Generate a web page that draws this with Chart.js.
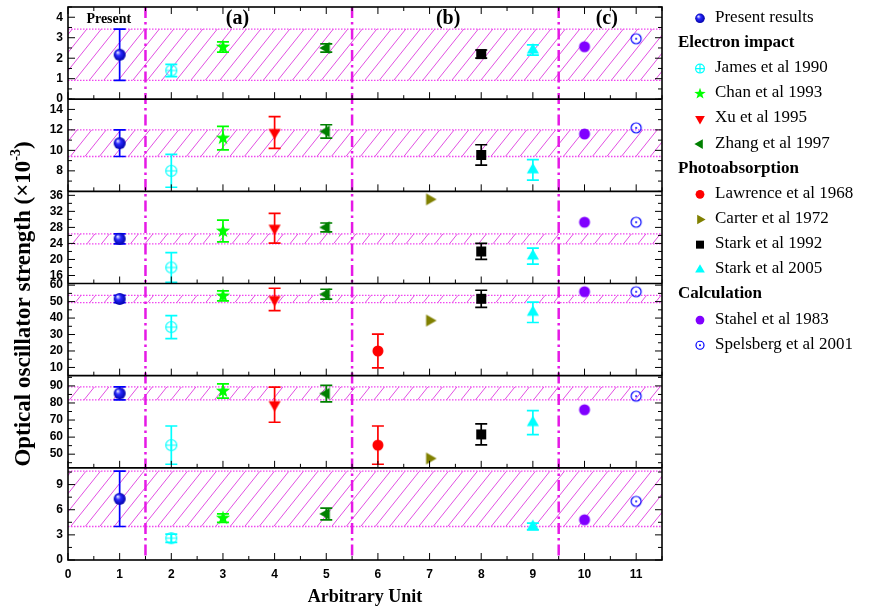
<!DOCTYPE html>
<html>
<head>
<meta charset="utf-8">
<script src="https://cdn.jsdelivr.net/npm/chart.js@4.4.0/dist/chart.umd.min.js"></script>
<style>
  html, body { margin: 0; padding: 0; background: #fff; }
  #wrap { width: 880px; height: 612px; }
</style>
</head>
<body>
<div id="wrap"><canvas id="chart" width="880" height="612"></canvas></div>
<script>
// one value per panel, top panel first (null = not measured)
const presentVal   = [2.17, 10.7, 25.15, 51.6, 85.6, 7.3];
const presentErr   = [1.25, 1.3, 1.25, 2.2, 3.8, 3.3];
const jamesVal     = [1.4, 8.0, 18.0, 34.5, 55.3, 2.6];
const jamesErr     = [0.3, 1.6, 3.7, 7.0, 11.2, 0.5];
const chanVal      = [2.55, 11.2, 27.1, 53.5, 87.0, 5.0];
const chanErr      = [0.25, 1.15, 2.7, 3.0, 4.2, 0.5];
const xuVal        = [null, 11.75, 27.8, 51.3, 79.0, null];
const xuErr        = [null, 1.55, 3.7, 6.8, 10.3, null];
const zhangVal     = [2.5, 11.85, 28.0, 54.5, 85.5, 5.5];
const zhangErr     = [0.2, 0.65, 1.1, 3.0, 4.8, 0.7];
const lawrenceVal  = [null, null, null, 20.0, 55.3, null];
const lawrenceErr  = [null, null, null, 10.3, 11.2, null];
const carterVal    = [null, null, 35.0, 38.5, 47.5, null];
const stark92Val   = [2.2, 9.55, 22.0, 51.7, 61.6, null];
const stark92Err   = [0.2, 1.0, 2.0, 5.2, 6.1, null];
const stark05Val   = [2.4, 8.1, 20.85, 43.5, 68.5, 4.0];
const stark05Err   = [0.25, 1.0, 2.0, 6.2, 7.0, 0.4];
const stahelVal    = [2.56, 11.6, 29.3, 56.0, 76.0, 4.8];
const spelsbergVal = [2.95, 12.2, 29.3, 56.0, 84.0, 7.0];

// axes
const panelMin   = [0, 6, 14, 5, 42, 0];
const panelMax   = [4.5, 15, 37, 61, 96, 11];
const panelTicks = [[0, 1, 2, 3, 4], [8, 10, 12, 14], [16, 20, 24, 28, 32, 36],
                    [10, 20, 30, 40, 50, 60], [50, 60, 70, 80, 90], [0, 3, 6, 9]];
const panelMinor = [0.5, 1, 2, 5, 5, 1.5];
const xTicks = [0, 1, 2, 3, 4, 5, 6, 7, 8, 9, 10, 11];
const dividers = [1.5, 5.5, 9.5];
const regionLabels = ['Present', '(a)', '(b)', '(c)'];
const regionLabelX = [0.79, 3.28, 7.36, 10.43];

const SERIF = "'Liberation Serif', 'Times New Roman', serif";
const SANS = "'Liberation Sans', Arial, sans-serif";

const series = [
  { label: 'Present results',    x: 1,  vals: presentVal,   errs: presentErr,  color: '#0000ff', marker: 'sphere' },
  { heading: 'Electron impact' },
  { label: 'James et al 1990',   x: 2,  vals: jamesVal,     errs: jamesErr,    color: '#00ffff', marker: 'circlePlus' },
  { label: 'Chan et al 1993',    x: 3,  vals: chanVal,      errs: chanErr,     color: '#00ff00', marker: 'star' },
  { label: 'Xu et al 1995',      x: 4,  vals: xuVal,        errs: xuErr,       color: '#ff0000', marker: 'triDown' },
  { label: 'Zhang et al 1997',   x: 5,  vals: zhangVal,     errs: zhangErr,    color: '#008000', marker: 'triLeft' },
  { heading: 'Photoabsorption' },
  { label: 'Lawrence et al 1968', x: 6, vals: lawrenceVal,  errs: lawrenceErr, color: '#ff0000', marker: 'circle' },
  { label: 'Carter et al 1972',  x: 7,  vals: carterVal,    errs: null,        color: '#808000', marker: 'triRight' },
  { label: 'Stark et al 1992',   x: 8,  vals: stark92Val,   errs: stark92Err,  color: '#000000', marker: 'square' },
  { label: 'Stark et al 2005',   x: 9,  vals: stark05Val,   errs: stark05Err,  color: '#00ffff', marker: 'triUp' },
  { heading: 'Calculation' },
  { label: 'Stahel et al 1983',  x: 10, vals: stahelVal,    errs: null,        color: '#8000ff', marker: 'circle' },
  { label: 'Spelsberg et al 2001', x: 11, vals: spelsbergVal, errs: null,      color: '#0000ff', marker: 'circleDot' }
];

function drawMarker(g, kind, color, cx, cy, k) {
  g.save();
  g.fillStyle = color;
  g.strokeStyle = color;
  if (kind === 'sphere') {
    const r = 6 * k;
    const grad = g.createRadialGradient(cx - r * 0.35, cy - r * 0.4, r * 0.1, cx, cy, r);
    grad.addColorStop(0, '#d8d8ff');
    grad.addColorStop(0.35, '#2a2aff');
    grad.addColorStop(1, '#0000a8');
    g.fillStyle = grad;
    g.beginPath(); g.arc(cx, cy, r, 0, Math.PI * 2); g.fill();
  } else if (kind === 'circle') {
    g.beginPath(); g.arc(cx, cy, 5.5 * k, 0, Math.PI * 2); g.fill();
  } else if (kind === 'circlePlus') {
    const r = 5.5 * k;
    g.lineWidth = 1.2;
    g.beginPath(); g.arc(cx, cy, r, 0, Math.PI * 2); g.stroke();
    g.beginPath();
    g.moveTo(cx - r, cy); g.lineTo(cx + r, cy);
    g.moveTo(cx, cy - r); g.lineTo(cx, cy + r);
    g.stroke();
  } else if (kind === 'circleDot') {
    const r = 5 * k;
    g.lineWidth = 1.2;
    g.beginPath(); g.arc(cx, cy, r, 0, Math.PI * 2); g.stroke();
    g.beginPath(); g.arc(cx, cy, 1, 0, Math.PI * 2); g.fill();
  } else if (kind === 'star') {
    const ro = 7.5 * k, ri = 3 * k;
    g.beginPath();
    for (let i = 0; i < 10; i++) {
      const r = i % 2 ? ri : ro;
      const a = -Math.PI / 2 + i * Math.PI / 5;
      const px = cx + r * Math.cos(a), py = cy + r * Math.sin(a);
      i ? g.lineTo(px, py) : g.moveTo(px, py);
    }
    g.closePath(); g.fill();
  } else if (kind === 'square') {
    const s = 10 * k;
    g.fillRect(cx - s / 2, cy - s / 2, s, s);
  } else if (kind.startsWith('tri')) {
    const tip = { triUp: -90, triDown: 90, triLeft: 180, triRight: 0 }[kind] * Math.PI / 180;
    const r = 7 * k;
    g.beginPath();
    for (let i = 0; i < 3; i++) {
      const a = tip + i * 2 * Math.PI / 3;
      const px = cx + r * Math.cos(a), py = cy + r * Math.sin(a);
      i ? g.lineTo(px, py) : g.moveTo(px, py);
    }
    g.closePath(); g.fill();
  }
  g.restore();
}

function makeMarker(kind, color) {
  const c = document.createElement('canvas');
  c.width = 22; c.height = 22;
  drawMarker(c.getContext('2d'), kind, color, 11, 11, 1);
  return c;
}

const datasets = [];
series.filter(s => !s.heading).forEach(s => {
  const img = makeMarker(s.marker, s.color);
  s.vals.forEach((v, i) => {
    if (v === null) return;
    datasets.push({
      type: 'scatter',
      label: s.label,
      data: [{ x: s.x, y: v }],
      errs: [s.errs ? s.errs[i] : null],
      errColor: s.color,
      yAxisID: 'y' + (i + 1),
      pointStyle: img,
      pointRadius: 6,
      showLine: false
    });
  });
});

const tickFont = { family: SANS, size: 12, weight: 'bold' };
const scales = {
  x: {
    type: 'linear', position: 'bottom', min: 0, max: 11.5,
    grid: { display: false, drawTicks: false },
    border: { display: false },
    ticks: { font: tickFont, color: '#000', padding: 7, autoSkip: false },
    afterBuildTicks: axis => { axis.ticks = xTicks.map(v => ({ value: v })); },
    afterFit: axis => { axis.height = 52; axis.paddingLeft = 0; axis.paddingRight = 0; }
  }
};
panelMin.forEach((mn, i) => {
  scales['y' + (i + 1)] = {
    type: 'linear', position: 'left', stack: 'panels', stackWeight: 1, weight: 6 - i,
    min: mn, max: panelMax[i],
    grid: { display: false, drawTicks: false },
    border: { display: false },
    ticks: { font: tickFont, color: '#000', padding: 5, autoSkip: false },
    afterBuildTicks: axis => { axis.ticks = panelTicks[i].map(v => ({ value: v })); },
    afterFit: axis => { axis.width = 68; axis.paddingTop = 0; axis.paddingBottom = 0; }
  };
});

const panelPlugin = {
  id: 'panels',
  beforeDatasetsDraw(chart) {
    const { ctx, chartArea: a } = chart;
    // hatched band = present result +- error
    presentVal.forEach((v, i) => {
      const sc = chart.scales['y' + (i + 1)];
      const yt = sc.getPixelForValue(v + presentErr[i]);
      const yb = sc.getPixelForValue(v - presentErr[i]);
      const h = yb - yt;
      ctx.save();
      ctx.beginPath(); ctx.rect(a.left, yt, a.right - a.left, h); ctx.clip();
      ctx.strokeStyle = '#e24fe2';
      ctx.lineWidth = 1;
      ctx.beginPath();
      for (let x0 = a.left - h; x0 < a.right + 15; x0 += 14.5) {
        ctx.moveTo(x0, yb); ctx.lineTo(x0 + h * 0.8, yt);
      }
      ctx.stroke();
      ctx.restore();
      ctx.save();
      ctx.strokeStyle = '#f046f0';
      ctx.lineWidth = 1.3;
      ctx.setLineDash([1.5, 1.5]);
      ctx.beginPath();
      ctx.moveTo(a.left, yt); ctx.lineTo(a.right, yt);
      ctx.moveTo(a.left, yb); ctx.lineTo(a.right, yb);
      ctx.stroke();
      ctx.restore();
    });
    // dash-dot dividers
    const xs = chart.scales.x;
    ctx.save();
    ctx.strokeStyle = '#e619e6';
    ctx.lineWidth = 2.5;
    ctx.setLineDash([11, 4, 2.5, 4]);
    dividers.forEach(d => {
      const px = xs.getPixelForValue(d);
      ctx.beginPath(); ctx.moveTo(px, a.top); ctx.lineTo(px, a.bottom); ctx.stroke();
    });
    ctx.restore();
    // error bars
    ctx.save();
    ctx.lineWidth = 1.7;
    chart.data.datasets.forEach((ds, di) => {
      const meta = chart.getDatasetMeta(di);
      const sc = chart.scales[ds.yAxisID];
      meta.data.forEach((pt, j) => {
        const e = ds.errs[j];
        if (!e) return;
        const v = ds.data[j].y;
        const y1 = sc.getPixelForValue(v + e), y2 = sc.getPixelForValue(v - e);
        ctx.strokeStyle = ds.errColor;
        ctx.beginPath();
        ctx.moveTo(pt.x, y1); ctx.lineTo(pt.x, y2);
        ctx.moveTo(pt.x - 6, y1); ctx.lineTo(pt.x + 6, y1);
        ctx.moveTo(pt.x - 6, y2); ctx.lineTo(pt.x + 6, y2);
        ctx.stroke();
      });
    });
    ctx.restore();
  },
  afterDatasetsDraw(chart) {
    const { ctx, chartArea: a } = chart;
    const xs = chart.scales.x;
    ctx.save();
    ctx.strokeStyle = '#000';
    ctx.lineWidth = 1;
    // ticks
    ctx.beginPath();
    panelMin.forEach((mn, i) => {
      const sc = chart.scales['y' + (i + 1)];
      for (let v = 0; v <= 11.5; v += 0.5) {
        const px = xs.getPixelForValue(v);
        const len = Number.isInteger(v) ? 7 : 4;
        ctx.moveTo(px, sc.bottom); ctx.lineTo(px, sc.bottom - len);
        if (i === 0) { ctx.moveTo(px, sc.top); ctx.lineTo(px, sc.top + len); }
      }
      const step = panelMinor[i];
      for (let v = Math.ceil(mn / step) * step; v <= panelMax[i] + 1e-9; v += step) {
        const py = sc.getPixelForValue(v);
        const len = panelTicks[i].includes(v) ? 7 : 4;
        ctx.moveTo(a.left, py); ctx.lineTo(a.left + len, py);
        ctx.moveTo(a.right, py); ctx.lineTo(a.right - len, py);
      }
    });
    ctx.stroke();
    // frame and panel separators
    ctx.lineWidth = 1.6;
    ctx.strokeRect(a.left, a.top, a.right - a.left, a.bottom - a.top);
    ctx.beginPath();
    for (let i = 1; i < 6; i++) {
      const yb = chart.scales['y' + i].bottom;
      ctx.moveTo(a.left, yb); ctx.lineTo(a.right, yb);
    }
    ctx.stroke();

    // region labels
    ctx.fillStyle = '#000';
    ctx.textBaseline = 'middle';
    ctx.textAlign = 'center';
    regionLabels.forEach((t, i) => {
      ctx.font = (i === 0 ? 'bold 14px ' : 'bold 20px ') + SERIF;
      ctx.fillText(t, xs.getPixelForValue(regionLabelX[i]), a.top + 12);
    });

    // x title
    ctx.font = 'bold 18px ' + SERIF;
    ctx.fillText('Arbitrary Unit', 365, 597);

    // y title (rotated)
    ctx.save();
    ctx.translate(24, 304);
    ctx.rotate(-Math.PI / 2);
    const mainTxt = 'Optical oscillator strength (\u00d710';
    const supTxt = '-3';
    const endTxt = ')';
    ctx.font = 'bold 23px ' + SERIF;
    const w1 = ctx.measureText(mainTxt).width;
    const w3 = ctx.measureText(endTxt).width;
    ctx.font = 'bold 14px ' + SERIF;
    const w2 = ctx.measureText(supTxt).width;
    let x0 = -(w1 + w2 + w3) / 2;
    ctx.textAlign = 'left';
    ctx.font = 'bold 23px ' + SERIF;
    ctx.fillText(mainTxt, x0, 0);
    ctx.font = 'bold 14px ' + SERIF;
    ctx.fillText(supTxt, x0 + w1, -8);
    ctx.font = 'bold 23px ' + SERIF;
    ctx.fillText(endTxt, x0 + w1 + w2, 0);
    ctx.restore();

    // legend
    ctx.textAlign = 'left';
    series.forEach((s, r) => {
      const y = 17.3 + r * 25.15;
      if (s.heading) {
        ctx.font = 'bold 17px ' + SERIF;
        ctx.fillText(s.heading, 678, y);
      } else {
        drawMarker(ctx, s.marker, s.color, 700, y + 1, 0.8);
        ctx.font = '17px ' + SERIF;
        ctx.fillText(s.label, 715, y);
      }
    });
    ctx.restore();
  }
};

new Chart(document.getElementById('chart'), {
  type: 'scatter',
  data: { datasets },
  options: {
    responsive: false,
    animation: false,
    events: [],
    layout: { padding: { top: 7, right: 218, bottom: 0, left: 0 } },
    plugins: { legend: { display: false }, tooltip: { enabled: false } },
    scales
  },
  plugins: [panelPlugin]
});
</script>
</body>
</html>
